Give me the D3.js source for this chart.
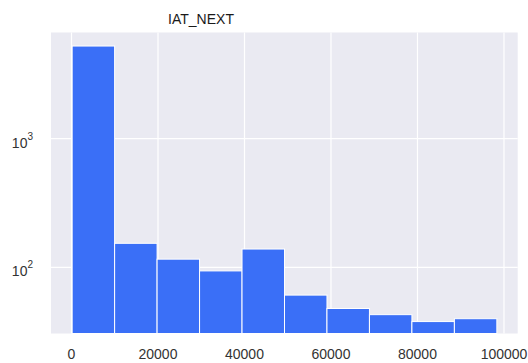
<!DOCTYPE html>
<html>
<head>
<meta charset="utf-8">
<script src="https://cdn.jsdelivr.net/npm/d3@7"></script>
<style>
  html, body { margin: 0; padding: 0; background: #ffffff; }
  svg { display: block; }
  text { font-family: "Liberation Sans", Arial, sans-serif; }
</style>
</head>
<body>
<svg id="chart" width="528" height="363"></svg>
<script>
// Histogram of IAT_NEXT: 10 equal-width bins, log-scaled counts
const title = "IAT_NEXT";
const binStart = 150;
const binEnd = 98350;
const counts = [5240, 154, 116, 94, 139, 61, 48, 43, 38, 40];
const xTicks = [0, 20000, 40000, 60000, 80000, 100000];
const yTicks = [100, 1000];

const W = 528, H = 363;
const plot = { left: 51, right: 517.7, top: 32.5, bottom: 333.5 };

const nBins = counts.length;
const binW = (binEnd - binStart) / nBins;
const bins = counts.map((c, i) => ({
  x0: binStart + i * binW,
  x1: binStart + (i + 1) * binW,
  count: c
}));

const x = d3.scaleLinear()
  .domain([-4740, 103170])
  .range([plot.left, plot.right]);

const y = d3.scaleLog()
  .domain([30.7, 6675])
  .range([plot.bottom, plot.top]);

const svg = d3.select("#chart");

// axes background
svg.append("rect")
  .attr("x", plot.left).attr("y", plot.top)
  .attr("width", plot.right - plot.left)
  .attr("height", plot.bottom - plot.top)
  .attr("fill", "#eaeaf2");

// grid lines
const grid = svg.append("g");
grid.selectAll("line.vx").data(xTicks).join("line")
  .attr("x1", d => x(d)).attr("x2", d => x(d))
  .attr("y1", plot.top).attr("y2", plot.bottom)
  .attr("stroke", "#ffffff").attr("stroke-width", 1.2);
grid.selectAll("line.hy").data(yTicks).join("line")
  .attr("x1", plot.left).attr("x2", plot.right)
  .attr("y1", d => y(d)).attr("y2", d => y(d))
  .attr("stroke", "#ffffff").attr("stroke-width", 1.2);

// bars
svg.append("g").selectAll("rect").data(bins).join("rect")
  .attr("x", d => x(d.x0))
  .attr("width", d => x(d.x1) - x(d.x0))
  .attr("y", d => y(d.count))
  .attr("height", d => plot.bottom - y(d.count))
  .attr("fill", "#3a6ff7")
  .attr("stroke", "#ffffff")
  .attr("stroke-width", 1);

// x tick labels
svg.append("g").selectAll("text").data(xTicks).join("text")
  .attr("x", d => x(d))
  .attr("y", 359)
  .attr("text-anchor", "middle")
  .attr("font-size", 14)
  .attr("fill", "#333333")
  .text(d => d3.format("d")(d));

// y tick labels as powers of ten
const yl = svg.append("g").selectAll("text").data(yTicks).join("text")
  .attr("x", 33)
  .attr("y", d => y(d) + 9)
  .attr("text-anchor", "end")
  .attr("font-size", 14)
  .attr("fill", "#333333");
yl.append("tspan").text("10");
yl.append("tspan")
  .attr("font-size", 10)
  .attr("dy", -8)
  .text(d => Math.round(Math.log10(d)));

// title
svg.append("text")
  .attr("x", 201)
  .attr("y", 24)
  .attr("text-anchor", "middle")
  .attr("font-size", 14)
  .attr("fill", "#1a1a1a")
  .text(title);
</script>
</body>
</html>
